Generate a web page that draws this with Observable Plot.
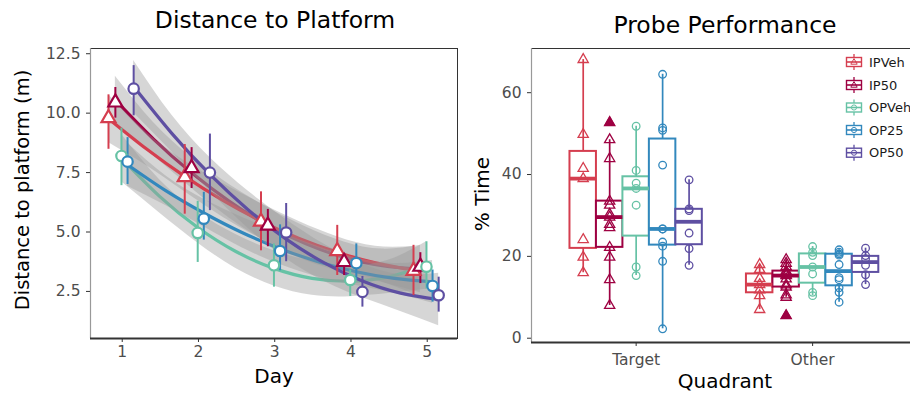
<!DOCTYPE html>
<html><head><meta charset="utf-8">
<script src="https://cdn.jsdelivr.net/npm/d3@7"></script>
<script src="https://cdn.jsdelivr.net/npm/@observablehq/plot@0.6"></script>
<style>
html,body{margin:0;padding:0;width:910px;height:393px;overflow:hidden;background:#fff;font-family:"DejaVu Sans",sans-serif;}
#wrap{position:relative;width:910px;height:393px;overflow:hidden;}
#left{position:absolute;left:0;top:0;width:460px;height:393px;}
#right{position:absolute;left:460px;top:0;width:460px;height:393px;}
#left svg,#right svg{max-width:none !important;}
#overlay{position:absolute;left:0;top:0;pointer-events:none;}
</style></head>
<body><div id="wrap"><div id="left"></div><div id="right"></div><svg id="overlay" width="910" height="393"></svg></div>
<script>
// ---------- shared ----------
const groups = ["IPVeh", "IP50", "OPVeh", "OP25", "OP50"];
const colors = ["#D53E4F", "#9E0142", "#66C2A5", "#3288BD", "#5E4FA2"];
const shapes = ["triangle", "triangle", "circle", "circle", "circle"];
const drawOrder = ["IP50", "IPVeh", "OPVeh", "OP25", "OP50"];

// ---------- left panel: Distance to Platform ----------
const days = [1, 2, 3, 4, 5];
const dayOffset = [-0.18, -0.09, -0.01, 0.07, 0.15];
const yTicksLeft = [2.5, 5.0, 7.5, 10.0, 12.5];

const meanIPVeh = [9.79, 7.31, 5.44, 4.20, 3.37];
const lowIPVeh  = [8.48, 5.75, 4.21, 3.17, 2.33];
const highIPVeh = [10.77, 8.68, 6.69, 5.28, 4.44];

const meanIP50 = [10.45, 7.69, 5.27, 3.74, 3.54];
const lowIP50  = [9.79, 6.83, 4.38, 3.17, 2.83];
const highIP50 = [11.08, 8.55, 5.95, 4.10, 4.13];

const meanOPVeh = [8.20, 4.96, 3.60, 2.98, 3.54];
const lowOPVeh  = [6.95, 3.72, 2.68, 2.29, 2.60];
const highOPVeh = [9.37, 6.29, 4.50, 3.40, 4.59];

const meanOP25 = [7.96, 5.56, 4.20, 3.69, 2.73];
const lowOP25  = [7.00, 4.66, 3.37, 2.98, 2.05];
const highOP25 = [8.97, 6.67, 5.30, 4.50, 3.40];

const meanOP50 = [11.03, 7.50, 4.98, 2.48, 2.34];
const lowOP50  = [9.89, 5.90, 3.75, 1.84, 1.63];
const highOP50 = [12.00, 9.12, 6.20, 3.13, 3.10];

// fitted smooth curves (read at offsets from day 3) and their band half-widths
const fitT = [-2, -1.5, -1, -0.5, 0, 0.5, 1, 1.5, 2];
const fitIPVeh = [9.77, 8.49, 7.34, 6.33, 5.46, 4.73, 4.15, 3.70, 3.39];
const fitIP50  = [10.55, 8.91, 7.49, 6.28, 5.28, 4.50, 3.93, 3.58, 3.44];
const fitOPVeh = [8.11, 6.50, 5.19, 4.18, 3.47, 3.05, 2.93, 3.11, 3.59];
const fitOP25  = [7.83, 6.74, 5.80, 4.98, 4.30, 3.75, 3.33, 3.05, 2.90];
const fitOP50  = [11.12, 9.15, 7.42, 5.94, 4.70, 3.70, 2.94, 2.43, 2.16];
const bandIPVeh = [1.00, 0.70, 0.65, 0.71, 0.74, 0.71, 0.65, 0.70, 1.00];
const bandIP50  = [1.00, 0.70, 0.65, 0.71, 0.74, 0.71, 0.65, 0.70, 1.00];
const bandOPVeh = [1.00, 0.70, 0.65, 0.71, 0.74, 0.71, 0.65, 0.70, 1.00];
const bandOP25  = [0.90, 0.63, 0.58, 0.64, 0.67, 0.64, 0.58, 0.63, 0.90];
const bandOP50  = [1.10, 0.77, 0.71, 0.78, 0.82, 0.78, 0.71, 0.77, 1.10];

const means = [meanIPVeh, meanIP50, meanOPVeh, meanOP25, meanOP50];
const lows = [lowIPVeh, lowIP50, lowOPVeh, lowOP25, lowOP50];
const highs = [highIPVeh, highIP50, highOPVeh, highOP25, highOP50];
const fits = [fitIPVeh, fitIP50, fitOPVeh, fitOP25, fitOP50];
const bands = [bandIPVeh, bandIP50, bandOPVeh, bandOP25, bandOP50];

const pointRows = [];
groups.forEach((g, i) => days.forEach((d, j) => pointRows.push({
  group: g, x: d + dayOffset[i], y: means[i][j], lo: lows[i][j], hi: highs[i][j]
})));
const fitRows = [];
groups.forEach((g, i) => fitT.forEach((t, j) => fitRows.push({
  group: g, x: 3 + t + dayOffset[i], y: fits[i][j], lo: fits[i][j] - bands[i][j], hi: fits[i][j] + bands[i][j]
})));

const xDomLeft = [0.584, 5.397];
const yDomLeft = [0.52, 12.72];

const leftMarks = [];
drawOrder.forEach(g => {
  const rows = fitRows.filter(r => r.group === g);
  leftMarks.push(Plot.areaY(rows, {x: "x", y1: "lo", y2: "hi", fill: "#999999", fillOpacity: 0.4, curve: "natural"}));
  leftMarks.push(Plot.line(rows, {x: "x", y: "y", stroke: "group", strokeWidth: 3.2, curve: "natural"}));
});
leftMarks.push(Plot.ruleX(pointRows, {x: "x", y1: "lo", y2: "hi", stroke: "group", strokeWidth: 2}));
leftMarks.push(Plot.dot(pointRows, {x: "x", y: "y", stroke: "group", symbol: "group", fill: "white", r: 5.2, strokeWidth: 2.2}));
leftMarks.push(Plot.frame({stroke: "#333", strokeWidth: 1}));
leftMarks.push(Plot.ruleX([xDomLeft[0]], {stroke: "#999", strokeWidth: 1.2}));
leftMarks.push(Plot.ruleY([yDomLeft[0]], {stroke: "#333", strokeWidth: 2}));
leftMarks.push(Plot.axisX(days, {tickSize: 4, tickPadding: 3, fontSize: 15.5, fill: "#4d4d4d", stroke: "#333", label: null}));
leftMarks.push(Plot.axisY(yTicksLeft, {tickSize: 4, tickPadding: 6, fontSize: 15.5, fill: "#4d4d4d", stroke: "#333", label: null, tickFormat: d => d.toFixed(1)}));

const leftPlot = Plot.plot({
  width: 460, height: 393,
  marginLeft: 90, marginRight: 3, marginTop: 48, marginBottom: 55,
  x: {domain: xDomLeft},
  y: {domain: yDomLeft},
  color: {domain: groups, range: colors},
  symbol: {domain: groups, range: shapes},
  style: {fontFamily: "DejaVu Sans", background: "transparent", overflow: "visible", maxWidth: "none"},
  marks: leftMarks
});
document.getElementById("left").appendChild(leftPlot);

// ---------- right panel: Probe Performance ----------
const quadrants = ["Target", "Other"];
const boxOffset = [-0.3, -0.15, 0, 0.15, 0.3];
const boxWidth = 0.15;
const yTicksRight = [0, 20, 40, 60];

const targetIPVeh = [68.1, 49.8, 41.5, 39.0, 24.1, 19.8, 16.0];
const targetIP50  = [52.7, 48.5, 43.9, 33.5, 32.5, 30.3, 29.6, 27.8, 27.0, 22.2, 19.8, 14.3, 8.0];
const targetOPVeh = [51.8, 41.0, 37.9, 36.6, 32.5, 17.4, 15.3];
const targetOP25  = [64.5, 51.4, 50.8, 42.3, 26.7, 26.7, 23.5, 22.5, 18.8, 2.3];
const targetOP50  = [38.7, 31.6, 31.2, 25.7, 21.9, 17.8];

const otherIPVeh = [18.0, 16.8, 14.6, 13.1, 11.8, 10.4, 7.0];
const otherIP50  = [19.2, 18.3, 17.5, 16.4, 16.0, 15.5, 15.3, 14.5, 13.0, 12.5, 10.6, 10.0, 5.5];
const otherOPVeh = [22.4, 21.0, 20.2, 17.4, 15.7, 11.2, 10.4];
const otherOP25  = [21.6, 21.0, 20.6, 20.3, 18.0, 14.8, 14.3, 12.3, 11.2, 8.8];
const otherOP50  = [22.0, 20.2, 19.4, 17.8, 15.5, 13.1];

const raw = {
  Target: [targetIPVeh, targetIP50, targetOPVeh, targetOP25, targetOP50],
  Other: [otherIPVeh, otherIP50, otherOPVeh, otherOP25, otherOP50]
};

function boxStats(vals) {
  const s = vals.slice().sort(d3.ascending);
  const q1 = d3.quantileSorted(s, 0.25), med = d3.quantileSorted(s, 0.5), q3 = d3.quantileSorted(s, 0.75);
  const iqr = q3 - q1, lo = q1 - 1.5 * iqr, hi = q3 + 1.5 * iqr;
  const inside = s.filter(v => v >= lo && v <= hi);
  return {q1, med, q3, wlo: d3.min(inside), whi: d3.max(inside), out: s.filter(v => v < lo || v > hi)};
}

const boxRows = [], rawRows = [], outRows = [];
quadrants.forEach((q, qi) => groups.forEach((g, i) => {
  const x = qi + 1 + boxOffset[i];
  const st = boxStats(raw[q][i]);
  boxRows.push({group: g, x, x1: x - boxWidth / 2, x2: x + boxWidth / 2, ...st});
  raw[q][i].forEach(v => rawRows.push({group: g, x, v}));
  st.out.forEach(v => outRows.push({group: g, x, v}));
}));

const xDomRight = [0.407, 2.6];
const yDomRight = [-1.05, 70.8];

const rightPlot = Plot.plot({
  width: 460, height: 393,
  marginLeft: 71, marginRight: 2, marginTop: 48, marginBottom: 51,
  x: {domain: xDomRight},
  y: {domain: yDomRight},
  color: {domain: groups, range: colors},
  symbol: {domain: groups, range: shapes},
  style: {fontFamily: "DejaVu Sans", background: "transparent", overflow: "visible", maxWidth: "none"},
  marks: [
    Plot.frame({stroke: "#333", strokeWidth: 1}),
    Plot.ruleX(boxRows, {x: "x", y1: "wlo", y2: "q1", stroke: "group", strokeWidth: 1.7}),
    Plot.ruleX(boxRows, {x: "x", y1: "q3", y2: "whi", stroke: "group", strokeWidth: 1.7}),
    Plot.rect(boxRows, {x1: "x1", x2: "x2", y1: "q1", y2: "q3", fill: "white", stroke: "group", strokeWidth: 2}),
    Plot.ruleY(boxRows, {x1: "x1", x2: "x2", y: "med", stroke: "group", strokeWidth: 3.8}),
    Plot.dot(outRows, {x: "x", y: "v", fill: "group", symbol: "group", r: 4.3, stroke: "none"}),
    Plot.dot(rawRows, {x: "x", y: "v", stroke: "group", symbol: "group", fill: "none", r: 3.8, strokeWidth: 1.3}),
    Plot.ruleX([xDomRight[0]], {stroke: "#999", strokeWidth: 1.2}),
    Plot.ruleY([yDomRight[0]], {stroke: "#333", strokeWidth: 2}),
    Plot.axisX([1, 2], {tickSize: 4, tickPadding: 7, fontSize: 15.5, fill: "#4d4d4d", stroke: "#333", label: null, tickFormat: d => quadrants[d - 1]}),
    Plot.axisY(yTicksRight, {tickSize: 4, tickPadding: 6, fontSize: 15.5, fill: "#4d4d4d", stroke: "#333", label: null})
  ]
});
document.getElementById("right").appendChild(rightPlot);

// ---------- titles, axis titles, legend (text) ----------
const ns = "http://www.w3.org/2000/svg";
const ov = document.getElementById("overlay");
function txt(s, attrs) {
  const t = document.createElementNS(ns, "text");
  t.textContent = s;
  for (const k in attrs) t.setAttribute(k, attrs[k]);
  t.setAttribute("font-family", "DejaVu Sans");
  ov.appendChild(t);
  return t;
}
txt("Distance to Platform", {x: 275, y: 28, "text-anchor": "middle", "font-size": 23.5, fill: "#000"});
txt("Probe Performance", {x: 725, y: 33, "text-anchor": "middle", "font-size": 23.5, fill: "#000"});
txt("Day", {x: 274, y: 383, "text-anchor": "middle", "font-size": 20, fill: "#000"});
txt("Quadrant", {x: 725, y: 388, "text-anchor": "middle", "font-size": 20, fill: "#000"});
txt("Distance to platform (m)", {transform: "translate(29,190) rotate(-90)", "text-anchor": "middle", "font-size": 19.5, fill: "#000"});
txt("% Time", {transform: "translate(489,194) rotate(-90)", "text-anchor": "middle", "font-size": 20, fill: "#000"});

const legendY = [62, 85, 107.5, 130, 152.7];
groups.forEach((g, i) => {
  const c = legendY[i], col = colors[i];
  const grp = document.createElementNS(ns, "g");
  grp.innerHTML =
    `<line x1="854" x2="854" y1="${c - 8}" y2="${c + 8}" stroke="${col}" stroke-width="1.3"/>` +
    `<rect x="846.5" y="${c - 4.5}" width="15" height="9" fill="white" stroke="${col}" stroke-width="1.4"/>` +
    `<line x1="846.5" x2="861.5" y1="${c}" y2="${c}" stroke="${col}" stroke-width="1.6"/>` +
    (shapes[i] === "triangle"
      ? `<path d="M854,${c - 3.4}L857.2,${c + 2.2}L850.8,${c + 2.2}Z" fill="none" stroke="${col}" stroke-width="1"/>`
      : `<circle cx="854" cy="${c}" r="2.6" fill="none" stroke="${col}" stroke-width="1"/>`);
  ov.appendChild(grp);
  txt(g, {x: 869, y: c + 4.7, "font-size": 13, fill: "#1a1a1a"});
});
</script>
</body></html>
